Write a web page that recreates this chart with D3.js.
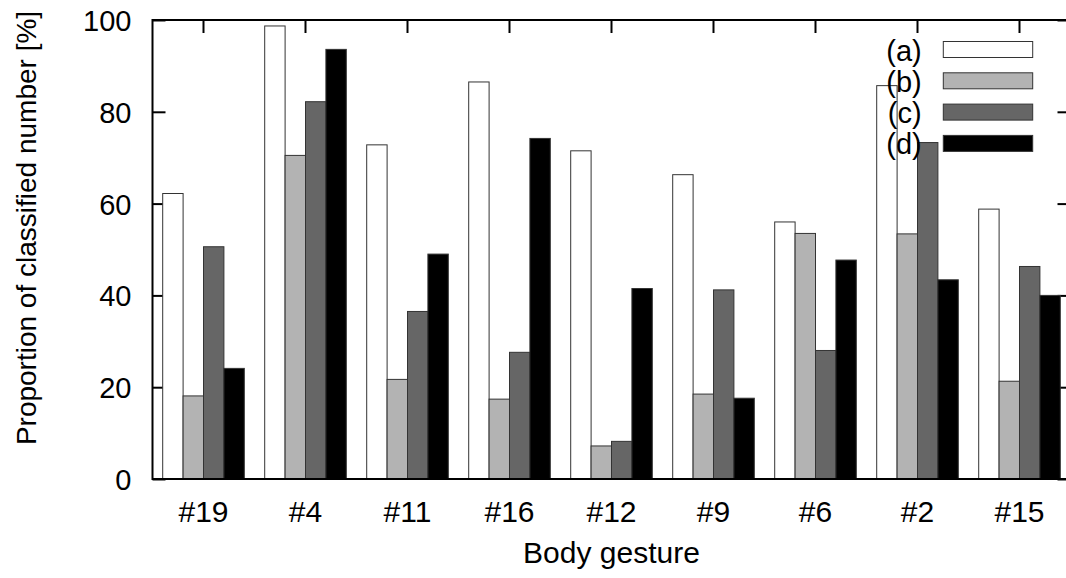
<!DOCTYPE html>
<html>
<head>
<meta charset="utf-8">
<script src="https://cdn.jsdelivr.net/npm/d3@7"></script>
<style>
  html, body { margin: 0; padding: 0; background: #fff; }
  svg { display: block; }
  text { font-family: "Liberation Sans", Arial, Helvetica, sans-serif; fill: #000; }
</style>
</head>
<body>
<svg id="chart" width="1066" height="578"></svg>
<script>
// Body gestures along the x axis
const categories = ["#19", "#4", "#11", "#16", "#12", "#9", "#6", "#2", "#15"];

// Series names shown in the key
const seriesNames = ["(a)", "(b)", "(c)", "(d)"];

// Proportion of classified number [%] per gesture, one array per series
const seriesA = [62.2, 98.7, 72.8, 86.5, 71.5, 66.3, 56.0, 85.7, 58.8];
const seriesB = [18.1, 70.5, 21.7, 17.4, 7.2, 18.5, 53.5, 53.4, 21.3];
const seriesC = [50.6, 82.2, 36.5, 27.6, 8.2, 41.2, 28.0, 73.3, 46.3];
const seriesD = [24.1, 93.6, 49.0, 74.2, 41.5, 17.6, 47.7, 43.4, 40.0];

// Y axis tick values
const yTicks = [0, 20, 40, 60, 80, 100];

const seriesValues = [seriesA, seriesB, seriesC, seriesD];
const fills = ["#ffffff", "#b3b3b3", "#666666", "#000000"];

const svg = d3.select("#chart");

// plot frame
const plotLeft = 152.5, plotRight = 1070.5, plotTop = 20, plotBottom = 479;
const tickLen = 13;
const yTickFont = 29, xTickFont = 30, titleFont = 30, yTitleFont = 28, keyFont = 29;

const x = d3.scaleBand().domain(categories).range([plotLeft, plotRight]).paddingInner(0).paddingOuter(0);
const xs = d3.scaleBand().domain(seriesNames).range([0, x.bandwidth()])
  .paddingInner(0).paddingOuter(0.5);
const y = d3.scaleLinear().domain([0, 100]).range([plotBottom, plotTop]);

// left axis with inward ticks
const yAxis = d3.axisLeft(y).tickValues(yTicks).tickSize(-tickLen).tickPadding(0).tickFormat(d3.format("d"));
const gy = svg.append("g").attr("transform", `translate(${plotLeft},0)`).call(yAxis);
gy.select(".domain").remove();
gy.selectAll(".tick line").attr("stroke", "#000").attr("stroke-width", 2);
gy.selectAll(".tick text")
  .attr("x", -21).attr("dy", null).attr("y", 10.4)
  .attr("text-anchor", "end")
  .style("font-size", yTickFont + "px").style("font-family", "'Liberation Sans', Arial, sans-serif");

// mirrored right ticks
const yAxisR = d3.axisRight(y).tickValues(yTicks).tickSize(-tickLen).tickFormat("");
const gyr = svg.append("g").attr("transform", `translate(${plotRight},0)`).call(yAxisR);
gyr.select(".domain").remove();
gyr.selectAll(".tick line").attr("stroke", "#000").attr("stroke-width", 2);

// top ticks at each gesture
const xAxisTop = d3.axisTop(x).tickSize(-tickLen).tickFormat("");
const gxt = svg.append("g").attr("transform", `translate(0,${plotTop})`).call(xAxisTop);
gxt.select(".domain").remove();
gxt.selectAll(".tick line").attr("stroke", "#000").attr("stroke-width", 2);

// bottom axis labels
const xAxis = d3.axisBottom(x).tickSize(-tickLen).tickPadding(0);
const gx = svg.append("g").attr("transform", `translate(0,${plotBottom})`).call(xAxis);
gx.select(".domain").remove();
gx.selectAll(".tick line").attr("stroke", "#000").attr("stroke-width", 2);
gx.selectAll(".tick text")
  .attr("y", 42.7).attr("dy", null)
  .style("font-size", xTickFont + "px").style("font-family", "'Liberation Sans', Arial, sans-serif");

// key geometry
const keyTextX = 921.7, keySwX = 943.3, keySwW = 89.4, keySwH = 16;
const keyRow0 = 49.5, keyRowStep = 31.3;

// each series: key entry first, then its bars
seriesNames.forEach((name, si) => {
  const cy = keyRow0 + si * keyRowStep;
  svg.append("text")
    .attr("x", keyTextX).attr("y", cy + 11)
    .attr("text-anchor", "end")
    .style("font-size", keyFont + "px")
    .text(name);
  svg.append("rect")
    .attr("x", keySwX).attr("y", cy - keySwH / 2)
    .attr("width", keySwW).attr("height", keySwH)
    .attr("fill", fills[si]).attr("stroke", "#333").attr("stroke-width", 1);

  svg.append("g").selectAll("rect")
    .data(seriesValues[si].map((v, i) => ({ cat: categories[i], v })))
    .join("rect")
    .attr("x", d => x(d.cat) + xs(name))
    .attr("width", xs.bandwidth())
    .attr("y", d => y(d.v))
    .attr("height", d => y(0) - y(d.v))
    .attr("fill", fills[si])
    .attr("stroke", "#333")
    .attr("stroke-width", 1);
});

// frame
svg.append("rect")
  .attr("x", plotLeft).attr("y", plotTop)
  .attr("width", plotRight - plotLeft).attr("height", plotBottom - plotTop)
  .attr("fill", "none").attr("stroke", "#000").attr("stroke-width", 2);

// axis titles
svg.append("text")
  .attr("x", (plotLeft + plotRight) / 2).attr("y", 563)
  .attr("text-anchor", "middle")
  .style("font-size", titleFont + "px")
  .text("Body gesture");

svg.append("text")
  .attr("transform", "translate(36,228) rotate(-90)")
  .attr("text-anchor", "middle")
  .style("font-size", yTitleFont + "px")
  .text("Proportion of classified number [%]");
</script>
</body>
</html>
